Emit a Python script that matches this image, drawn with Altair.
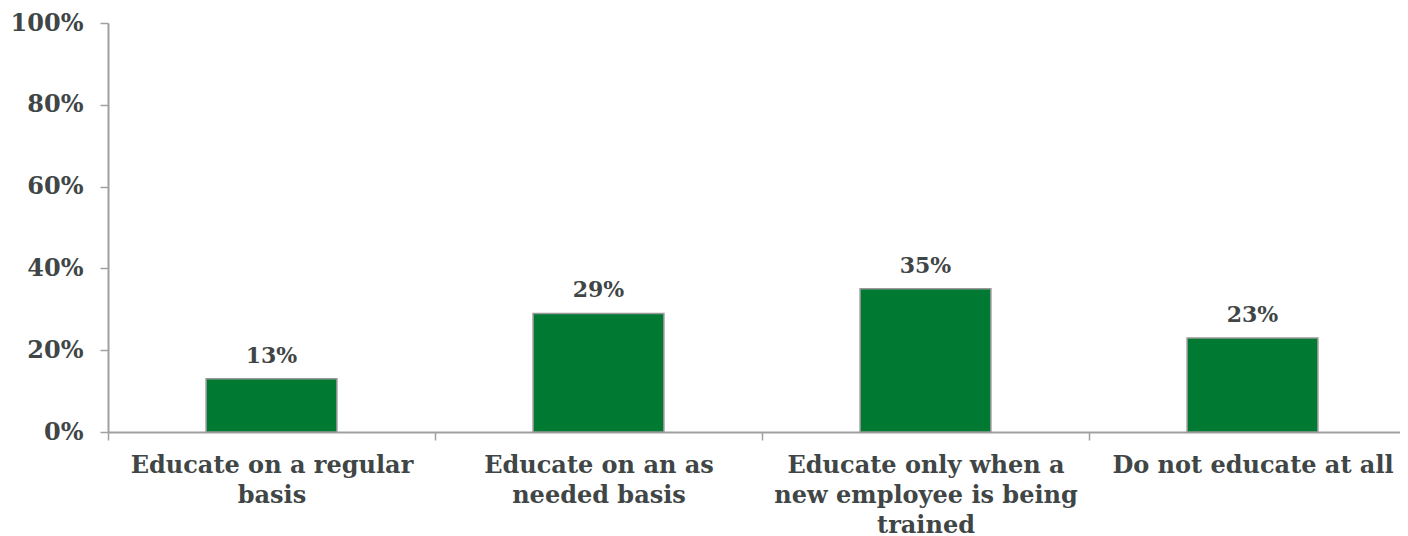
import altair as alt
import pandas as pd

categories = [
    "Educate on a regular basis",
    "Educate on an as needed basis",
    "Educate only when a new employee is being trained",
    "Do not educate at all",
]
label_lines = [
    ["Educate on a regular", "basis"],
    ["Educate on an as", "needed basis"],
    ["Educate only when a", "new employee is being", "trained"],
    ["Do not educate at all"],
]
values = [13, 29, 35, 23]
y_ticks = [0, 20, 40, 60, 80, 100]

df = pd.DataFrame({"cat": categories, "val": values, "txt": [f"{v}%" for v in values]})

expr = "''"
for c, lines in reversed(list(zip(categories, label_lines))):
    arr = "[" + ",".join(f"'{l}'" for l in lines) + "]"
    expr = f"datum.value == '{c}' ? {arr} : ({expr})"

FONT = "DejaVu Serif"
TXT = "#404646"
AX = "#a0a0a0"
FS = 24

x = alt.X(
    "cat:N",
    sort=categories,
    title=None,
    scale=alt.Scale(paddingInner=0, paddingOuter=0, range=[0, 1308]),
    axis=alt.Axis(
        labelExpr=expr,
        labelAngle=0,
        labelFont=FONT,
        labelFontSize=FS,
        labelFontWeight="bold",
        labelColor=TXT,
        labelLineHeight=30,
        labelPadding=13,
        labelLimit=400,
        tickBand="extent",
        tickSize=8,
        tickColor=AX,
        domainColor=AX,
        domainWidth=2,
        tickWidth=1.5,
        labelBaseline="top",
        grid=False,
    ),
)

bars = alt.Chart(df).mark_bar(
    width=alt.RelativeBandSize(0.4),
    color="#007A33",
    stroke="#999999",
    strokeWidth=1.5,
).encode(
    x=x,
    y=alt.Y(
        "val:Q",
        title=None,
        scale=alt.Scale(domain=[0, 100], nice=False),
        axis=alt.Axis(
            values=y_ticks,
            labelExpr="datum.value + '%'",
            labelFont=FONT,
            labelFontSize=FS,
            labelFontWeight="bold",
            labelColor=TXT,
            labelPadding=17,
            tickSize=8,
            tickColor=AX,
            tickWidth=1.5,
            domainColor=AX,
            domainWidth=2,
            grid=False,
        ),
    ),
)

text = alt.Chart(df).mark_text(
    dy=-16,
    baseline="alphabetic",
    font=FONT,
    fontSize=22,
    fontWeight="bold",
    color=TXT,
).encode(
    x=alt.X("cat:N", sort=categories),
    y=alt.Y("val:Q"),
    text="txt:N",
)

chart = (
    alt.layer(bars, text)
    .properties(
        width=1292,
        height=409,
        background="white",
        autosize=alt.AutoSizeParams(type="none"),
        padding={"left": 100, "top": 15, "right": 0, "bottom": 108},
    )
    .configure_view(strokeWidth=0)
    .configure_axis(grid=False)
)

chart.save("out.html", embed_options={"renderer": "svg", "actions": False})
